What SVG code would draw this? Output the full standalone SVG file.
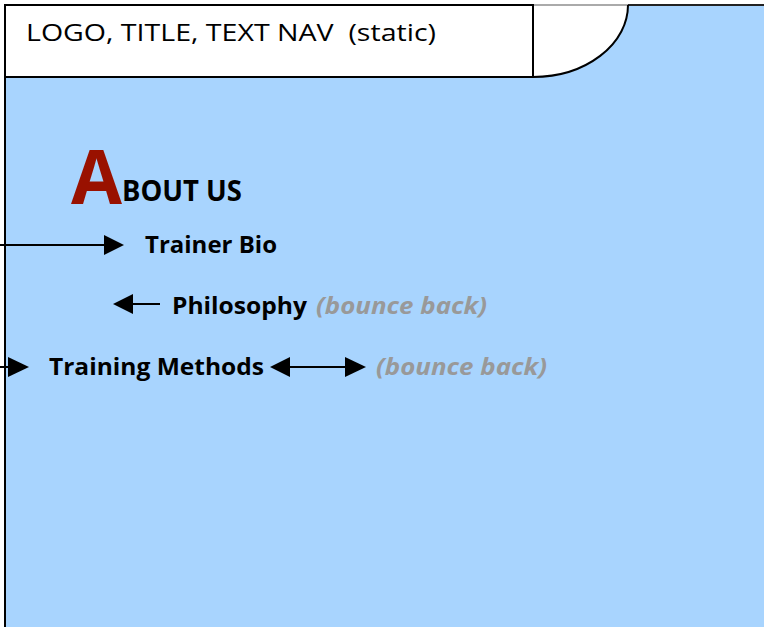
<svg xmlns="http://www.w3.org/2000/svg" width="764" height="627" viewBox="0 0 764 627">
<defs>
<style>
.lbl{font-family:"Open Sans","Noto Sans","Liberation Sans",sans-serif;font-weight:bold;fill:#000}
.bb{font-family:"Open Sans","Noto Sans","Liberation Sans",sans-serif;font-weight:bold;font-style:italic;fill:#999}
.conn{stroke:#000;stroke-width:2;fill:none}
</style>
</defs>
<rect x="0" y="0" width="764" height="627" fill="#fff"/>
<rect x="5" y="5" width="759" height="622" fill="#A8D4FE"/>
<line x1="628" y1="5" x2="764" y2="5" stroke="#222" stroke-width="2"/>
<line x1="5" y1="5" x2="5" y2="627" stroke="#000" stroke-width="2"/>
<g id="header">
<path d="M533,5 L628,5 A95,72 0 0 1 533,77 Z" fill="#fff"/>
<line x1="533" y1="5" x2="628" y2="5" stroke="#aaa" stroke-width="2"/>
<path d="M628,5 A95,72 0 0 1 533,77" fill="none" stroke="#000" stroke-width="2"/>
<rect x="5" y="5" width="528" height="72" fill="#fff" stroke="#000" stroke-width="2"/>
<text x="26" y="41" xml:space="preserve" style="white-space:pre" font-family="'Open Sans','Noto Sans','Liberation Sans',sans-serif" font-size="23" textLength="410" lengthAdjust="spacingAndGlyphs" fill="#000">LOGO, TITLE, TEXT NAV  (static)</text>
</g>
<g id="about-us">
<text x="71" y="204" class="lbl" font-size="76" style="fill:#991100" textLength="51" lengthAdjust="spacingAndGlyphs">A</text>
<text x="122" y="201" class="lbl" font-size="28" textLength="120" lengthAdjust="spacingAndGlyphs">BOUT US</text>
</g>
<g id="trainer-bio">
<text x="145" y="253" class="lbl" font-size="23" textLength="132" lengthAdjust="spacingAndGlyphs">Trainer Bio</text>
</g>
<g id="philosophy">
<text x="172" y="314" class="lbl" font-size="23" textLength="135" lengthAdjust="spacingAndGlyphs">Philosophy</text>
<text x="316" y="314" class="bb" font-size="23" textLength="171" lengthAdjust="spacingAndGlyphs">(bounce back)</text>
</g>
<g id="training-methods">
<text x="49" y="375" class="lbl" font-size="23" textLength="215" lengthAdjust="spacingAndGlyphs">Training Methods</text>
<text x="376" y="375" class="bb" font-size="23" textLength="171" lengthAdjust="spacingAndGlyphs">(bounce back)</text>
</g>
<g id="connectors">
<path d="M0,245 L104,245" class="conn"/>
<path d="M104,235 L124,245 L104,255 Z" fill="#000"/>
<path d="M160,304 L132,304" class="conn"/>
<path d="M133,294 L113,304 L133,314 Z" fill="#000"/>
<path d="M0,367 L9,367" class="conn"/>
<path d="M8,357 L29,367 L8,377 Z" fill="#000"/>
<path d="M289,367 L346,367" class="conn"/>
<path d="M290,357 L270,367 L290,377 Z" fill="#000"/>
<path d="M345,357 L366,367 L345,377 Z" fill="#000"/>
</g>
</svg>
